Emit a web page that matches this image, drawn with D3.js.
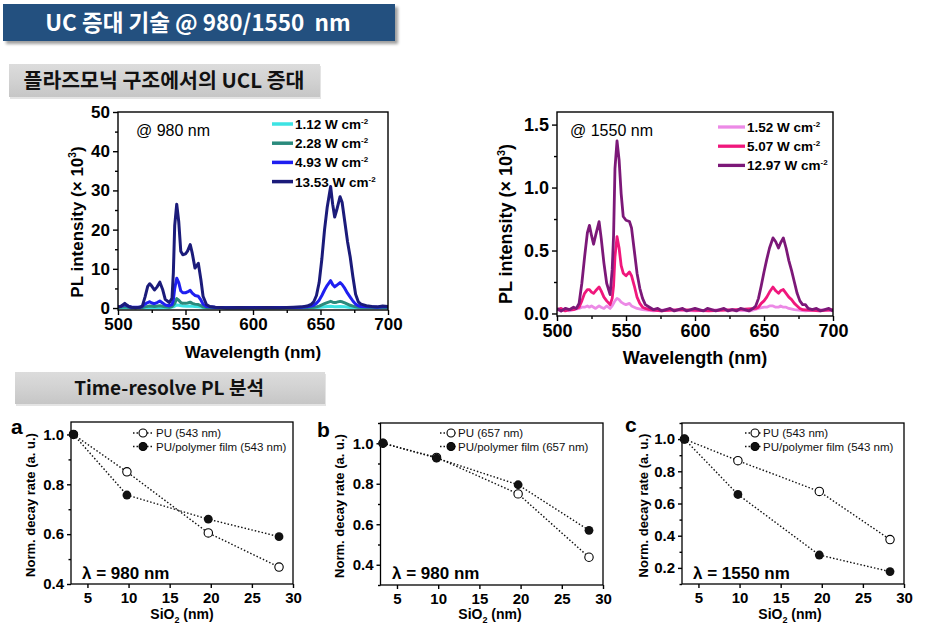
<!DOCTYPE html>
<html><head><meta charset="utf-8">
<script src="https://cdn.jsdelivr.net/npm/d3@7"></script>
<style>
body{margin:0;background:#fff;}
svg{display:block;}
</style></head>
<body>
<svg id="c" width="952" height="636"></svg>
<script>
// ---------- DATA ----------
const titleText = "UC 증대 기술 @ 980/1550  nm";
const section1 = "플라즈모닉 구조에서의 UCL 증대";
const section2 = "Time-resolve PL 분석";

const wlTicks = [500, 550, 600, 650, 700];

// 980 nm excitation spectra (x10^3)
const pl980_112 = [[500,0.05],[520,0.05],[530,0.1],[538,0.1],[541,0.3],[543.5,0.8],[545,0.7],[548,0.5],[551,0.45],[553.5,0.5],[557,0.4],[560,0.3],[563,0.1],[570,0.05],[640,0.05],[648,0.15],[653,0.3],[657.5,0.45],[660.5,0.35],[664.5,0.4],[668,0.3],[672,0.15],[678,0.05],[700,0.05]];
const pl980_228 = [[500,0.15],[505,0.3],[510,0.1],[518,0.15],[520,0.3],[523.5,0.5],[527,0.4],[531,0.6],[535,0.3],[538,0.2],[540,0.4],[542,1.2],[543.5,2.4],[545,2.0],[546.5,1.4],[548,1.2],[550,1.2],[551.5,1.3],[553.5,1.5],[555,1.2],[557,1.0],[559.5,0.9],[561.5,0.6],[563,0.3],[565.5,0.15],[600,0.1],[640,0.15],[645,0.2],[647,0.3],[649,0.5],[651,0.8],[653,1.1],[655,1.4],[657.5,1.7],[659,1.5],[660.5,1.4],[662,1.5],[664.5,1.7],[666,1.6],[668,1.3],[670,1.0],[672,0.7],[674,0.5],[676,0.3],[678,0.2],[690,0.15],[700,0.15]];
const pl980_493 = [[500,0.3],[502,0.4],[504,0.7],[505,0.9],[506,0.7],[508,0.4],[510,0.2],[513,0.2],[516,0.2],[518,0.4],[520,1.0],[522,1.4],[523.5,1.6],[525,1.3],[527,1.1],[529,1.4],[531,1.8],[533,1.3],[535,0.8],[538,0.6],[540,0.9],[541,2.0],[542,5.0],[543.5,7.6],[545,6.5],[546.5,4.4],[548,3.9],[550,3.9],[551.5,4.1],[553.5,4.5],[555,3.8],[557,3.2],[559.5,3.0],[561.5,2.0],[563,1.0],[565.5,0.4],[568,0.3],[572,0.2],[580,0.1],[630,0.15],[636,0.2],[640,0.3],[643,0.5],[645,0.7],[647,1.2],[649,2.0],[651,3.2],[653,4.6],[655,5.8],[657.5,7.0],[659,6.0],[660.5,5.4],[662,5.8],[664.5,6.5],[666,6.0],[668,5.0],[670,3.8],[672,2.8],[674,1.8],[676,1.0],[678,0.6],[680,0.4],[684,0.3],[688,0.3],[692,0.2],[696,0.3],[700,0.3]];
const pl980_1353 = [[500,0.3],[502,0.4],[504,0.9],[505,1.2],[506,0.9],[508,0.4],[510,0.2],[513,0.1],[516,0.2],[518,0.5],[520,2.8],[522,5.5],[523.5,6.2],[525,5.6],[527,4.6],[529,5.4],[531,6.6],[533,4.8],[535,2.2],[538,1.4],[540,2.5],[541,9],[542,21],[543.5,26.5],[545,22],[546.5,14.5],[548,13.6],[550,13.8],[551.5,14.5],[553.5,16.2],[555,14],[557,10.2],[559.5,11.4],[561.5,7],[563,3],[565.5,0.9],[568,0.4],[572,0.2],[580,0.1],[590,0.15],[600,0.1],[610,0.15],[620,0.1],[630,0.2],[636,0.3],[640,0.5],[643,0.9],[645,1.6],[647,3.2],[649,6.5],[651,12.5],[653,20],[655,25.8],[657.5,31],[659,26.5],[660.5,23.2],[662,25],[664.5,28.4],[666,27],[668,22],[670,17],[672,13],[674,8],[676,3.5],[678,1.6],[680,1.0],[684,0.6],[688,0.4],[692,0.3],[696,0.5],[700,0.4]];
const labels980 = ["1.12", "2.28", "4.93", "13.53"];
const colors980 = ["#3de3e3", "#2a8a7c", "#1f1ff0", "#1b1b7a"];

// 1550 nm excitation spectra (x10^3)
const pl1550_152 = [[500,0.03],[503,0.02],[506,0.04],[509,0.02],[512,0.03],[516,0.04],[518,0.05],[520,0.05],[522,0.06],[523.5,0.05],[525,0.06],[526.5,0.05],[528,0.04],[530.5,0.06],[532,0.05],[534,0.04],[536,0.06],[538.5,0.04],[540,0.06],[541,0.08],[542,0.10],[543.5,0.12],[545,0.11],[546.5,0.09],[548,0.08],[550,0.07],[552.5,0.08],[554,0.06],[556,0.05],[558,0.04],[562,0.03],[570,0.02],[580,0.03],[600,0.02],[620,0.03],[640,0.02],[646,0.04],[650,0.05],[652,0.05],[654,0.06],[656.5,0.06],[658.5,0.05],[660.5,0.05],[662,0.06],[664,0.05],[666,0.05],[668,0.04],[672,0.03],[680,0.02],[690,0.03],[700,0.02]];
const pl1550_507 = [[500,0.03],[503,0.04],[506,0.02],[509,0.03],[512,0.03],[514,0.04],[516,0.05],[518,0.10],[520,0.16],[522,0.19],[523.5,0.19],[525,0.17],[526.5,0.16],[528,0.18],[530.5,0.21],[532,0.18],[534,0.13],[536,0.10],[538.5,0.07],[540,0.12],[541,0.22],[542,0.45],[543.5,0.61],[545,0.52],[546.5,0.38],[548,0.32],[550,0.30],[552.5,0.33],[554,0.30],[556,0.22],[558,0.13],[560,0.08],[562,0.05],[564,0.04],[567,0.03],[575,0.02],[590,0.03],[610,0.02],[630,0.03],[644,0.04],[646,0.05],[648,0.08],[650,0.10],[652,0.13],[654,0.17],[656.5,0.21],[658.5,0.18],[660.5,0.16],[662,0.18],[664,0.19],[666,0.16],[668,0.13],[670,0.11],[672,0.08],[674,0.06],[676,0.04],[678,0.03],[690,0.02],[700,0.03]];
const pl1550_1297 = [[500,0.04],[503,0.02],[506,0.04],[509,0.03],[512,0.05],[514,0.04],[516,0.08],[518,0.24],[520,0.45],[522,0.64],[523.5,0.70],[525,0.62],[526.5,0.55],[528,0.62],[530.5,0.73],[532,0.60],[534,0.40],[536,0.24],[538.5,0.15],[540,0.35],[541,0.62],[542,1.15],[543.5,1.37],[545,1.22],[546.5,0.95],[548,0.77],[550,0.74],[552.5,0.73],[554,0.68],[556,0.50],[558,0.32],[560,0.20],[562,0.12],[564,0.07],[567,0.05],[570,0.03],[573,0.04],[576,0.02],[579,0.03],[582,0.04],[585,0.02],[588,0.03],[591,0.04],[594,0.02],[597,0.03],[600,0.04],[603,0.03],[606,0.02],[609,0.04],[612,0.03],[615,0.02],[618,0.03],[621,0.04],[624,0.02],[627,0.03],[630,0.02],[633,0.04],[636,0.03],[639,0.02],[642,0.04],[644,0.06],[646,0.12],[648,0.22],[650,0.33],[652,0.43],[654,0.52],[656.5,0.60],[658.5,0.57],[660.5,0.52],[662,0.56],[664,0.60],[666,0.52],[668,0.42],[670,0.34],[672,0.25],[674,0.16],[676,0.10],[678,0.07],[680,0.07],[682,0.04],[685,0.03],[688,0.04],[691,0.02],[694,0.03],[697,0.04],[700,0.02]];
const labels1550 = ["1.52", "5.07", "12.97"];
const colors1550 = ["#ec8ae6", "#f0177c", "#7c1878"];

// Time-resolved decay rates
const sio2 = [3.3, 9.8, 19.7, 28.3];
const decayA_PU = [1.0, 0.85, 0.605, 0.468];
const decayA_Film = [1.0, 0.757, 0.66, 0.59];
const decayB_PU = [1.0, 0.93, 0.75, 0.437];
const decayB_Film = [1.0, 0.927, 0.795, 0.57];
const decayC_PU = [1.0, 0.866, 0.675, 0.376];
const decayC_Film = [1.0, 0.656, 0.28, 0.177];
const sio2Ticks = [5, 10, 15, 20, 25, 30];

// ---------- DRAW ----------
const svg = d3.select("#c");
const FONT = "'Liberation Sans', Arial, sans-serif";
const KFONT = "'Noto Sans CJK KR', 'Noto Sans', sans-serif";
const defs = svg.append("defs");

// Title bar
const sh = defs.append("filter").attr("id","sh").attr("x","-10%").attr("y","-30%").attr("width","130%").attr("height","180%");
sh.append("feGaussianBlur").attr("stdDeviation",1.8);
svg.append("rect").attr("x",6).attr("y",7).attr("width",392).attr("height",37).attr("fill","#777").attr("opacity",0.7).attr("filter","url(#sh)");
svg.append("rect").attr("x",3).attr("y",4).attr("width",392).attr("height",37).attr("fill","#23507f");
svg.append("text").attr("x",198).attr("y",31).attr("text-anchor","middle")
  .attr("font-family",KFONT).attr("font-weight","bold").attr("font-size",22.5).attr("fill","#fff")
  .attr("xml:space","preserve").text(titleText);

// gray section boxes
const gg = defs.append("linearGradient").attr("id","gg").attr("x1",0).attr("y1",0).attr("x2",0).attr("y2",1);
gg.append("stop").attr("offset","0").attr("stop-color","#dcdcdc");
gg.append("stop").attr("offset","0.5").attr("stop-color","#d2d2d2");
gg.append("stop").attr("offset","1").attr("stop-color","#c6c6c6");
function section(x, y, w, h, txt, tx, ty, fs) {
  svg.append("rect").attr("x",x+1).attr("y",y+2).attr("width",w).attr("height",h).attr("fill","#e4e4e4");
  svg.append("rect").attr("x",x).attr("y",y).attr("width",w).attr("height",h).attr("fill","url(#gg)");
  svg.append("text").attr("x",tx).attr("y",ty).attr("text-anchor","middle")
    .attr("font-family",KFONT).attr("font-weight","bold").attr("font-size",fs).attr("fill","#111").text(txt);
}
section(9, 64, 311, 33, section1, 164, 88, 20.5);
section(15, 372, 310, 32, section2, 169, 395, 19);

function styleAxis(g, fs) {
  g.select(".domain").remove();
  g.selectAll("line").attr("stroke","#000").attr("stroke-width",1.4);
  g.selectAll("text").attr("font-family",FONT).attr("font-weight","bold").attr("font-size",fs).attr("fill","#000");
}

function spectrum(cfg) {
  const g = svg.append("g");
  const x = d3.scaleLinear().domain([500,700]).range([cfg.left,cfg.right]);
  const y = d3.scaleLinear().domain(cfg.ydom).range([cfg.bottom,cfg.top]);
  const id = "clip" + cfg.left;
  defs.append("clipPath").attr("id",id).append("rect")
    .attr("x",cfg.left).attr("y",cfg.top).attr("width",cfg.right-cfg.left).attr("height",cfg.bottom-cfg.top);
  const line = d3.line().x(d=>x(d[0])).y(d=>y(d[1]));
  cfg.series.forEach((s,i)=>{
    g.append("path").attr("d",line(s)).attr("fill","none").attr("stroke",cfg.colors[i])
      .attr("stroke-width",cfg.lw).attr("stroke-linejoin","round").attr("clip-path",`url(#${id})`);
  });
  // axes
  const xa = g.append("g").attr("transform",`translate(0,${cfg.bottom})`)
    .call(d3.axisBottom(x).tickValues(wlTicks).tickSize(5).tickSizeOuter(0).tickPadding(3).tickFormat(d3.format("d")));
  styleAxis(xa, cfg.fs);
  const xm = g.append("g").attr("transform",`translate(0,${cfg.bottom})`)
    .call(d3.axisBottom(x).tickValues([525,575,625,675]).tickSize(3).tickFormat(""));
  styleAxis(xm, cfg.fs);
  const ya = g.append("g").attr("transform",`translate(${cfg.left},0)`)
    .call(d3.axisLeft(y).tickValues(cfg.yticks).tickSize(5).tickPadding(3).tickFormat(cfg.yfmt));
  styleAxis(ya, cfg.fs);
  const ym = g.append("g").attr("transform",`translate(${cfg.left},0)`)
    .call(d3.axisLeft(y).tickValues(cfg.yminor).tickSize(3).tickFormat(""));
  styleAxis(ym, cfg.fs);
  g.append("rect").attr("x",cfg.left).attr("y",cfg.top).attr("width",cfg.right-cfg.left).attr("height",cfg.bottom-cfg.top)
    .attr("fill","none").attr("stroke","#000").attr("stroke-width",1.4);
  // titles
  g.append("text").attr("x",(cfg.left+cfg.right)/2).attr("y",cfg.xtY).attr("text-anchor","middle")
    .attr("font-family",FONT).attr("font-weight","bold").attr("font-size",cfg.fs).text("Wavelength (nm)");
  const yt = g.append("text").attr("transform",`translate(${cfg.ytX},${cfg.ytY}) rotate(-90)`).attr("text-anchor","middle")
    .attr("font-family",FONT).attr("font-weight","bold").attr("font-size",cfg.fs);
  yt.append("tspan").text("PL intensity (× 10");
  yt.append("tspan").attr("dy",-7).attr("font-size",cfg.fs*0.6).text("3");
  yt.append("tspan").attr("dy",7).text(")");
  g.append("text").attr("x",cfg.annX).attr("y",cfg.annY).attr("font-family",FONT).attr("font-size",16).text(cfg.ann);
  // legend
  cfg.labels.forEach((lab,i)=>{
    const ly = cfg.legY + i*cfg.legDy;
    g.append("line").attr("x1",cfg.legX1).attr("x2",cfg.legX2).attr("y1",ly).attr("y2",ly)
      .attr("stroke",cfg.colors[i]).attr("stroke-width",cfg.lw+0.5);
    const t = g.append("text").attr("x",cfg.legX2+2).attr("y",ly+5).attr("font-family",FONT).attr("font-weight","bold").attr("font-size",13.5);
    t.append("tspan").text(lab + " W cm");
    t.append("tspan").attr("dy",-5).attr("font-size",8).text("-2");
  });
}

spectrum({left:118,right:388,top:112,bottom:310,ydom:[-0.5,50],yticks:[0,10,20,30,40,50],yminor:[5,15,25,35,45],
  yfmt:d3.format("d"),fs:17,lw:3,series:[pl980_112,pl980_228,pl980_493,pl980_1353],colors:colors980,labels:labels980,
  xtY:358,ytX:83,ytY:222,ann:"@ 980 nm",annX:136,annY:136,legX1:272,legX2:293,legY:124,legDy:19.2});
spectrum({left:557,right:833,top:112,bottom:316,ydom:[-0.02,1.6],yticks:[0,0.5,1.0,1.5],yminor:[0.25,0.75,1.25],
  yfmt:d3.format(".1f"),fs:18,lw:2.8,series:[pl1550_152,pl1550_507,pl1550_1297],colors:colors1550,labels:labels1550,
  xtY:364,ytX:512,ytY:224,ann:"@ 1550 nm",annX:570,annY:136,legX1:718,legX2:745,legY:127,legDy:19.2});

function decay(cfg) {
  const g = svg.append("g");
  const x = d3.scaleLinear().domain([3,30]).range([cfg.left,cfg.right]);
  const y = d3.scaleLinear().domain(cfg.ydom).range([cfg.bottom,cfg.top]);
  const xa = g.append("g").attr("transform",`translate(0,${cfg.bottom})`)
    .call(d3.axisBottom(x).tickValues(sio2Ticks).tickSize(4).tickSizeOuter(0).tickPadding(4).tickFormat(d3.format("d")));
  styleAxis(xa, 15);
  const ya = g.append("g").attr("transform",`translate(${cfg.left},0)`)
    .call(d3.axisLeft(y).tickValues(cfg.yticks).tickSize(4).tickPadding(3).tickFormat(d3.format(".1f")));
  styleAxis(ya, 15);
  const ym = g.append("g").attr("transform",`translate(${cfg.left},0)`)
    .call(d3.axisLeft(y).tickValues(cfg.yminor).tickSize(2.5).tickFormat(""));
  styleAxis(ym, 15);
  g.append("rect").attr("x",cfg.left).attr("y",cfg.top).attr("width",cfg.right-cfg.left).attr("height",cfg.bottom-cfg.top)
    .attr("fill","none").attr("stroke","#000").attr("stroke-width",1.3);
  const line = d3.line().x((d,i)=>x(sio2[i])).y(d=>y(d));
  [cfg.pu, cfg.film].forEach(arr=>{
    g.append("path").attr("d",line(arr)).attr("fill","none").attr("stroke","#111").attr("stroke-width",1.4).attr("stroke-dasharray","1.5,2");
  });
  cfg.pu.forEach((v,i)=>g.append("circle").attr("cx",x(sio2[i])).attr("cy",y(v)).attr("r",4.2).attr("fill","#fff").attr("stroke","#000").attr("stroke-width",1.1));
  cfg.film.forEach((v,i)=>g.append("circle").attr("cx",x(sio2[i])).attr("cy",y(v)).attr("r",4.4).attr("fill","#111"));
  // titles
  const xt = g.append("text").attr("x",cfg.xtX).attr("y",619).attr("text-anchor","middle")
    .attr("font-family",FONT).attr("font-weight","bold").attr("font-size",14);
  xt.append("tspan").text("SiO");
  xt.append("tspan").attr("dy",4).attr("font-size",9).text("2");
  xt.append("tspan").attr("dy",-4).text(" (nm)");
  g.append("text").attr("transform",`translate(${cfg.ytX},${(cfg.top+cfg.bottom)/2+2}) rotate(-90)`).attr("text-anchor","middle")
    .attr("font-family",FONT).attr("font-weight","bold").attr("font-size",13).text("Norm. decay rate (a. u.)");
  g.append("text").attr("x",cfg.pX).attr("y",cfg.pY).attr("font-family",FONT).attr("font-weight","bold").attr("font-size",21).text(cfg.panel);
  g.append("text").attr("x",cfg.lamX).attr("y",579).attr("font-family",FONT).attr("font-weight","bold").attr("font-size",17).text(cfg.lam);
  // legend
  [[cfg.pu, "PU (" + cfg.nm + " nm)", false], [cfg.film, "PU/polymer film (" + cfg.nm + " nm)", true]].forEach((r,i)=>{
    const ly = 433 + i*13.5;
    g.append("line").attr("x1",cfg.lgX1).attr("x2",cfg.lgX2).attr("y1",ly).attr("y2",ly).attr("stroke","#111").attr("stroke-width",1.4).attr("stroke-dasharray","1.5,2");
    g.append("circle").attr("cx",cfg.lgC).attr("cy",ly).attr("r",4).attr("fill",r[2]?"#111":"#fff").attr("stroke","#000").attr("stroke-width",1.1);
    g.append("text").attr("x",cfg.lgT).attr("y",ly+4).attr("font-family",FONT).attr("font-size",11.5).attr("fill","#111").text(r[1]);
  });
}

decay({left:71,right:293,top:422,bottom:584,ydom:[0.4,1.05],yticks:[0.4,0.6,0.8,1.0],yminor:[0.5,0.7,0.9],
  pu:decayA_PU,film:decayA_Film,panel:"a",pX:11,pY:434,lam:"λ = 980 nm",lamX:82,nm:"543",
  lgX1:133,lgX2:152,lgC:143,lgT:156,xtX:182,ytX:35});
decay({left:380.5,right:603,top:423,bottom:585,ydom:[0.3,1.1],yticks:[0.4,0.6,0.8,1.0],yminor:[0.3,0.5,0.7,0.9,1.1],
  pu:decayB_PU,film:decayB_Film,panel:"b",pX:317,pY:437,lam:"λ = 980 nm",lamX:392,nm:"657",
  lgX1:440,lgX2:456,lgC:451,lgT:458,xtX:490,ytX:344});
decay({left:682,right:904,top:423,bottom:584,ydom:[0.1,1.1],yticks:[0.2,0.4,0.6,0.8,1.0],yminor:[0.1,0.3,0.5,0.7,0.9,1.1],
  pu:decayC_PU,film:decayC_Film,panel:"c",pX:625,pY:432,lam:"λ = 1550 nm",lamX:693,nm:"543",
  lgX1:745,lgX2:761,lgC:755,lgT:763,xtX:790,ytX:648});
</script>
</body></html>
